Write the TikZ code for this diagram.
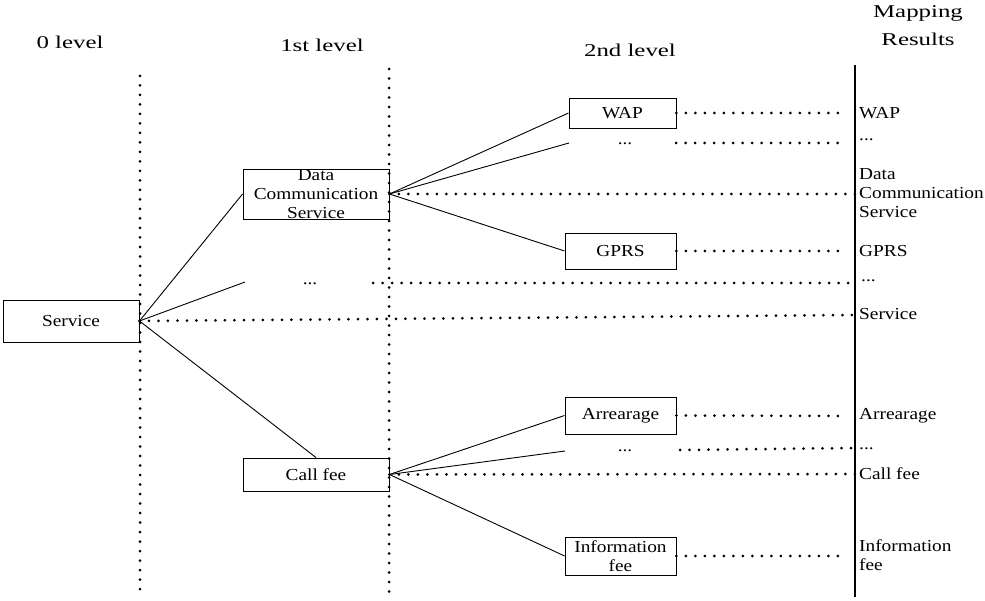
\documentclass[tikz,border=0pt]{standalone}
\usepackage{fontspec}
\setmainfont{Liberation Serif}[FakeStretch=1.15]
\newfontfamily\hdrfont{Liberation Serif}[FakeStretch=1.38]
\begin{document}
\begin{tikzpicture}[x=1pt,y=-1pt,
  box/.style={draw,line width=0.9pt,inner sep=0pt,align=center,font=\fontsize{16.8}{19}\selectfont},
  lbl/.style={inner sep=0pt,align=center,font=\fontsize{16.8}{19}\selectfont},
  maplbl/.style={inner sep=0pt,anchor=west,align=left,font=\fontsize{16.8}{19}\selectfont},
  hdr/.style={inner sep=0pt,align=center,font=\hdrfont\fontsize{18}{28}\selectfont},
  dotline/.style={line width=3pt,line cap=round,dash pattern=on 0pt off 9.5pt},
  link/.style={line width=0.9pt}]
\useasboundingbox (0,0) rectangle (985,601);
% headers
\node[hdr] (h0) at (70,42) {0 level};
\node[hdr] (h1) at (322,45) {1st level};
\node[hdr] (h2) at (630,50) {2nd level};
\node[hdr] (h3) at (918,26) {Mapping\\Results};
% vertical lines
\coordinate (v1t) at (140,76); \coordinate (v1b) at (140,598);
\coordinate (v2t) at (389,69); \coordinate (v2b) at (389,598);
\coordinate (mt) at (855,65); \coordinate (mb) at (855,597);
\draw[dotline] (v1t) -- (v1b);
\draw[dotline] (v2t) -- (v2b);
\draw[line width=1.1pt] (mt) -- (mb);
% boxes
\node[box,minimum width=136pt,minimum height=42pt] (svc) at (71,321) {Service};
\node[box,minimum width=146pt,minimum height=50pt] (dcs) at (316,194) {Data\\Communication\\Service};
\node[box,minimum width=146pt,minimum height=33pt] (cf) at (316,474.5) {Call fee};
\node[box,minimum width=107pt,minimum height=30pt] (wap) at (622.5,113) {WAP};
\node[box,minimum width=111pt,minimum height=36pt] (gprs) at (620.5,251) {GPRS};
\node[box,minimum width=111pt,minimum height=37pt] (arr) at (620.5,415.5) {Arrearage};
\node[box,minimum width=111pt,minimum height=38pt] (inf) at (620.5,556) {Information\\fee};
% ellipses
\node[lbl] (d1) at (310,284) {...};
\node[lbl] (d2) at (625,144) {...};
\node[lbl] (d3) at (625,451) {...};
\coordinate (e1) at (245,282);
\coordinate (e2) at (569,143);
\coordinate (e3) at (565,451);
% solid links
\draw[link] (svc.east) -- (dcs.west);
\draw[link] (svc.east) -- (e1);
\draw[link] (svc.east) -- (cf.north);
\draw[link] (dcs.east) -- (wap.west);
\draw[link] (dcs.east) -- (e2);
\draw[link] (dcs.east) -- (gprs.west);
\draw[link] (cf.east) -- (arr.west);
\draw[link] (cf.east) -- (e3);
\draw[link] (cf.east) -- (inf.west);
% mapping labels
\node[maplbl] (mwap) at (859,113) {WAP};
\node[maplbl] (md2) at (859,140) {...};
\node[maplbl] (mdcs) at (859,193) {Data\\Communication\\Service};
\node[maplbl] (mgprs) at (859,251) {GPRS};
\node[maplbl] (md1) at (861,281) {...};
\node[maplbl] (msvc) at (859,314) {Service};
\node[maplbl] (marr) at (859,416) {Arrearage};
\node[maplbl] (md3) at (859,449) {...};
\node[maplbl] (mcf) at (859,474) {Call fee};
\node[maplbl] (minf) at (859,555) {Information\\fee};
% dotted mapping lines
\coordinate (p1) at (845,113);
\coordinate (q2a) at (676,143); \coordinate (q2b) at (845,143);
\coordinate (p3) at (855,194);
\coordinate (p4) at (845,251);
\coordinate (q5a) at (373,283); \coordinate (q5b) at (855,283);
\coordinate (p6) at (855,315);
\coordinate (p7) at (845,416);
\coordinate (q8a) at (680,450); \coordinate (q8b) at (855,448);
\coordinate (p9) at (855,474);
\coordinate (p10) at (845,556);
\draw[dotline] (wap.east) -- (p1);
\draw[dotline] (q2a) -- (q2b);
\draw[dotline] (dcs.east) -- (p3);
\draw[dotline] (gprs.east) -- (p4);
\draw[dotline] (q5a) -- (q5b);
\draw[dotline] (svc.east) -- (p6);
\draw[dotline] (arr.east) -- (p7);
\draw[dotline] (q8a) -- (q8b);
\draw[dotline] (cf.east) -- (p9);
\draw[dotline] (inf.east) -- (p10);
\end{tikzpicture}
\end{document}
